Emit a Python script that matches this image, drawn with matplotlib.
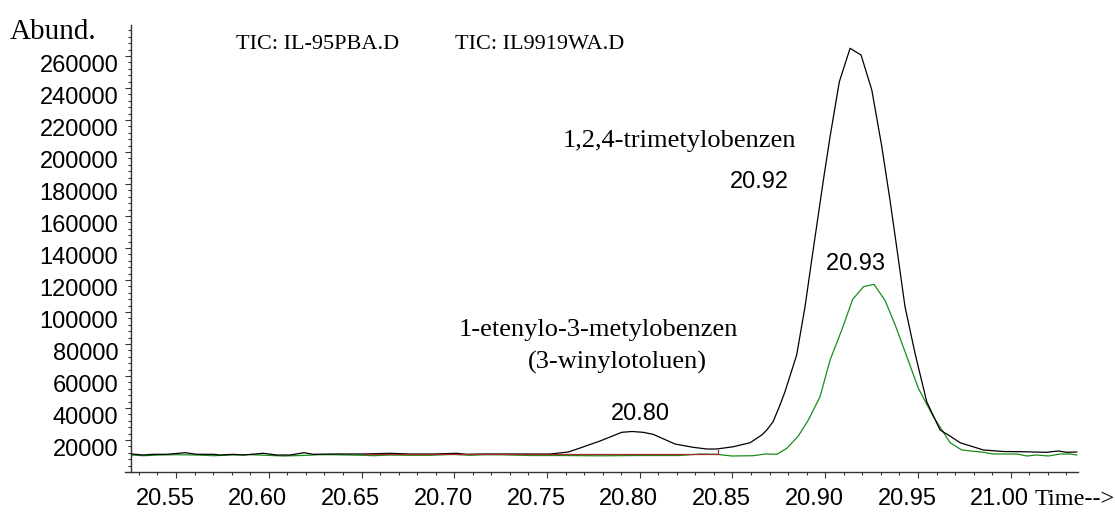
import matplotlib
matplotlib.use("Agg")
import matplotlib.pyplot as plt
import matplotlib.transforms as mtransforms
from matplotlib.ticker import MultipleLocator, FixedLocator

# TIC: IL-95PBA.D (black)
time_a = [20.5261, 20.5324, 20.5378, 20.5450, 20.5549, 20.5612, 20.5701, 20.5737,
          20.5807, 20.5863, 20.5971, 20.6043, 20.6115, 20.6190, 20.6240, 20.6348,
          20.6456, 20.6508, 20.6654, 20.6762, 20.6887, 20.7013, 20.7067, 20.7157,
          20.7247, 20.7409, 20.7516, 20.7615, 20.7694, 20.7786, 20.7903, 20.7959,
          20.8018, 20.8072, 20.8190, 20.8287, 20.8361, 20.8415, 20.8505, 20.8595,
          20.8658, 20.8685, 20.8719, 20.8756, 20.8783, 20.8846, 20.8891, 20.8927,
          20.8990, 20.9026, 20.9076, 20.9134, 20.9193, 20.9251, 20.9305, 20.9349,
          20.9386, 20.9430, 20.9484, 20.9547, 20.9619, 20.9664, 20.9727, 20.9853,
          20.9960, 21.0050, 21.0194, 21.0257, 21.0302, 21.0356]
abund_a = [11250, 10625, 11060, 11060, 12060, 11060, 11060, 10625,
           11060, 10625, 11690, 10625, 10625, 12060, 11060, 11250,
           11250, 11250, 11690, 11250, 11250, 11690, 11060, 11250,
           11250, 11250, 11250, 12500, 15625, 19375, 24810, 25310,
           24810, 23560, 17500, 15440, 14375, 14375, 15810, 18310,
           23125, 26250, 31440, 41875, 50190, 73125, 103310, 132500,
           182500, 209560, 243940, 264810, 260625, 238750, 203310, 170000,
           139810, 103310, 74190, 43940, 26250, 23125, 18310, 13750,
           12810, 12690, 12310, 13125, 12310, 12500]

# TIC: IL9919WA.D (green)
time_b = [20.5261, 20.5324, 20.5414, 20.5504, 20.5612, 20.5701, 20.5809, 20.5899,
          20.5989, 20.6079, 20.6205, 20.6276, 20.6348, 20.6510, 20.6564, 20.6654,
          20.6762, 20.6869, 20.6995, 20.7085, 20.7157, 20.7247, 20.7409, 20.7570,
          20.7786, 20.8002, 20.8217, 20.8325, 20.8415, 20.8496, 20.8612, 20.8676,
          20.8739, 20.8793, 20.8855, 20.8909, 20.8972, 20.9026, 20.9089, 20.9148,
          20.9206, 20.9263, 20.9323, 20.9377, 20.9440, 20.9502, 20.9583, 20.9673,
          20.9736, 20.9853, 20.9906, 21.0033, 21.0087, 21.0140, 21.0203, 21.0266,
          21.0320, 21.0356]
abund_b = [10625, 10190, 10625, 10810, 10625, 10190, 10625, 10810,
           10440, 10000, 10440, 10810, 10810, 10440, 10190, 10625,
           10440, 10440, 11060, 10440, 10810, 10810, 10310, 10310,
           10125, 10310, 10310, 11250, 11060, 10000, 10190, 11250,
           11060, 14810, 22500, 32500, 47060, 70000, 88750, 107940,
           115810, 117310, 107060, 91875, 72060, 52310, 34560, 18310,
           13750, 12310, 11250, 11250, 10000, 10625, 10000, 11250,
           11250, 10625]

# integration baseline of the 20.80 peak (red)
time_int = [20.6508, 20.8422, 20.8422]
abund_int = [11440, 11440, 13750]

x_ticks = [20.55, 20.60, 20.65, 20.70, 20.75, 20.80, 20.85, 20.90, 20.95, 21.00]
y_ticks = [20000, 40000, 60000, 80000, 100000, 120000, 140000,
           160000, 180000, 200000, 220000, 240000, 260000]

sans = ['Liberation Sans', 'DejaVu Sans']
serif = ['Liberation Serif', 'DejaVu Serif']

fig = plt.figure(figsize=(11.15, 5.16), dpi=100)
ax = fig.add_axes([125 / 1115, 44 / 516, 952.7 / 1115, 447 / 516])

ax.plot(time_a, abund_a, color='black', lw=0.9, zorder=3)
ax.plot(time_b, abund_b, color='#1a8c1a', lw=0.9, zorder=2)
ax.plot(time_int, abund_int, color='#a52a2a', lw=0.9, zorder=4)

ax.set_xlim(20.5225, 21.0361)
ax.set_ylim(0, 279375)

for s in ['top', 'right']:
    ax.spines[s].set_visible(False)
ax.spines['left'].set_position(('data', 20.5256))
for s in ['left', 'bottom']:
    ax.spines[s].set_color('#333333')
    ax.spines[s].set_linewidth(1.0)

ax.xaxis.set_major_locator(FixedLocator(x_ticks))
ax.xaxis.set_minor_locator(MultipleLocator(0.01))
ax.yaxis.set_major_locator(FixedLocator(y_ticks))
ax.yaxis.set_minor_locator(MultipleLocator(4000))
ax.set_xticklabels(['%.2f' % t for t in x_ticks])
ax.set_yticklabels([str(t) for t in y_ticks])

ax.tick_params(axis='x', which='major', length=4.3, width=0.8, pad=7, colors='#333333', labelcolor='black')
ax.tick_params(axis='x', which='minor', length=2.4, width=0.8, colors='#333333')
ax.tick_params(axis='y', which='major', length=4.0, width=0.8, pad=5, colors='#333333', labelcolor='black')
ax.tick_params(axis='y', which='minor', length=2.2, width=0.8, colors='#333333')

# labels sit a little off their ticks, like the instrument printout
for lab in ax.get_xticklabels():
    lab.set_fontfamily(sans)
    lab.set_fontsize(17)
    lab.set_transform(lab.get_transform() + mtransforms.ScaledTranslation(-0.11, 0, fig.dpi_scale_trans))
for lab in ax.get_yticklabels():
    lab.set_fontfamily(sans)
    lab.set_fontsize(17)
    lab.set_transform(lab.get_transform() + mtransforms.ScaledTranslation(0, -0.08, fig.dpi_scale_trans))

# peak labels
box = dict(boxstyle='square,pad=0.15', fc='white', ec='none')
ax.text(20.8002, 36250, '20.80', ha='center', va='center', fontsize=17, family=sans, bbox=box, zorder=5)
ax.text(20.9004, 130000, '20.93 ', ha='left', va='center', fontsize=17, family=sans, bbox=box, zorder=5)
ax.text(20.8643, 181250, '20.92', ha='center', va='center', fontsize=17, family=sans, zorder=5)

# compound names
ax.text(20.8212, 203310, '1,2,4-trimetylobenzen', ha='center', va='baseline', fontsize=19, family=serif)
ax.text(20.7778, 85000, '1-etenylo-3-metylobenzen', ha='center', va='baseline', fontsize=19, family=serif)
ax.text(20.7878, 64625, '(3-winylotoluen)', ha='center', va='baseline', fontsize=19, family=serif)

fig.text(10 / 1115, (516 - 39) / 516, 'Abund.', ha='left', va='baseline', fontsize=21, family=serif)
fig.text(236 / 1115, (516 - 49) / 516, 'TIC: IL-95PBA.D', ha='left', va='baseline', fontsize=16, family=serif)
fig.text(455 / 1115, (516 - 49) / 516, 'TIC: IL9919WA.D', ha='left', va='baseline', fontsize=16, family=serif)
fig.text(1035 / 1115, (516 - 505) / 516, 'Time-->', ha='left', va='baseline', fontsize=17.5, family=serif)

fig.savefig('out.png', dpi=100)
